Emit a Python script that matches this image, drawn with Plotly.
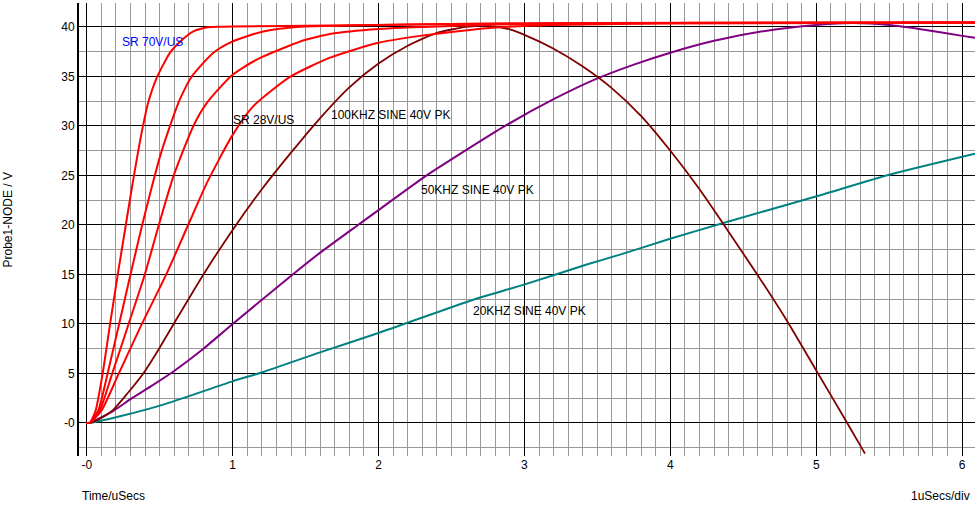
import plotly.graph_objects as go

# ---- data (time in uSecs, voltage in V) ----
sr70_t = [0.0, 0.02, 0.06, 0.107, 0.16, 0.215, 0.27, 0.31, 0.345, 0.38, 0.422, 0.484, 0.571,
          0.639, 0.731, 0.822, 0.9, 1.0, 1.668, 2.5, 3.5, 6.09]
sr70_v = [0.0, 0.0, 1.2, 4.8, 10.0, 15.2, 20.2, 23.8, 26.8, 29.6, 32.4, 35.0, 37.4,
          38.5, 39.55, 39.95, 40.02, 40.05, 40.15, 40.3, 40.4, 40.45]

sr_b_t = [0.0, 0.02, 0.08, 0.143, 0.222, 0.30, 0.38, 0.44, 0.502, 0.571, 0.639, 0.72, 0.868,
          0.994, 1.21, 1.439, 1.668, 2.5, 3.5, 6.09]
sr_b_v = [0.0, 0.0, 1.3, 5.0, 10.0, 15.0, 20.0, 23.5, 26.9, 30.0, 32.7, 35.0, 37.4,
          38.5, 39.55, 40.0, 40.1, 40.3, 40.4, 40.45]

sr_c_t = [0.0, 0.02, 0.09, 0.175, 0.287, 0.398, 0.5, 0.594, 0.731, 0.822, 0.994, 1.165, 1.371,
          1.5, 1.668, 2.0, 2.5, 3.0, 4.0, 6.09]
sr_c_v = [0.0, 0.0, 1.3, 5.0, 10.0, 15.0, 20.3, 24.9, 30.0, 32.3, 35.1, 36.7, 38.0,
          38.7, 39.3, 39.8, 40.1, 40.3, 40.4, 40.45]

sr28_t = [0.0, 0.02, 0.103, 0.22, 0.378, 0.545, 0.71, 0.822, 0.994, 1.142, 1.393, 1.668, 1.999,
          2.284, 2.627, 2.833, 3.2, 4.0, 6.09]
sr28_v = [0.0, 0.0, 1.3, 5.0, 10.0, 15.0, 20.5, 24.2, 28.95, 32.0, 34.95, 36.9, 38.4,
          39.1, 39.7, 39.96, 40.2, 40.35, 40.45]

sine100_t = [0.0, 0.02, 0.1, 0.18, 0.28, 0.39, 0.5, 0.6, 0.8, 1.0, 1.2, 1.4, 1.6, 1.8,
             2.0, 2.2, 2.4, 2.6, 2.75, 2.9, 3.0, 3.2, 3.4, 3.6, 3.8, 4.0, 4.2, 4.4,
             4.6, 4.8, 5.0, 5.2, 5.334]
sine100_v = [0.0, 0.0, 0.5, 1.3, 3.0, 5.05, 7.6, 10.1, 15.0, 19.5, 23.6, 27.3, 30.8, 33.9,
             36.3, 38.1, 39.4, 40.0, 40.1, 39.75, 39.2, 37.8, 36.0, 33.8, 31.0, 27.5, 23.6, 19.3,
             14.9, 10.3, 5.3, 0.3, -3.1]

sine50_t = [0.0, 0.02, 0.18, 0.3, 0.45, 0.594, 0.8, 1.0, 1.416, 1.6, 1.85, 2.0, 2.33, 2.605,
            2.867, 3.2, 3.5, 3.75, 4.0, 4.3, 4.65, 5.0, 5.25, 5.5, 5.75, 6.0, 6.088]
sine50_v = [0.0, 0.0, 1.2, 2.4, 3.8, 5.2, 7.5, 10.0, 15.05, 17.2, 19.9, 21.5, 25.0, 27.6,
            30.0, 32.7, 34.8, 36.2, 37.4, 38.6, 39.6, 40.2, 40.4, 40.2, 39.7, 39.1, 38.9]

sine20_t = [0.0, 0.02, 0.228, 0.525, 0.998, 1.21, 1.599, 1.999, 2.65, 2.997, 3.427, 3.655,
            3.998, 4.363, 5.003, 5.506, 6.088]
sine20_v = [0.0, 0.0, 0.67, 1.85, 4.2, 5.15, 7.13, 9.09, 12.45, 13.97, 16.0, 17.0,
            18.6, 20.2, 22.9, 25.1, 27.2]

x_tick_vals = [0, 1, 2, 3, 4, 5, 6]
x_tick_text = ["-0", "1", "2", "3", "4", "5", "6"]
y_tick_vals = [0, 5, 10, 15, 20, 25, 30, 35, 40]
y_tick_text = ["-0", "5", "10", "15", "20", "25", "30", "35", "40"]

FONT = "Liberation Sans, Arial, sans-serif"

fig = go.Figure()
series = [
    (sine20_t, sine20_v, "#008080", 2),
    (sine50_t, sine50_v, "#800080", 2),
    (sine100_t, sine100_v, "#800000", 1.8),
    (sr28_t, sr28_v, "#ff0000", 2),
    (sr_c_t, sr_c_v, "#ff0000", 2),
    (sr_b_t, sr_b_v, "#ff0000", 2),
    (sr70_t, sr70_v, "#ff0000", 2),
]
for t, v, c, w in series:
    fig.add_trace(go.Scatter(x=t, y=v, mode="lines", line=dict(color=c, width=w, shape="spline",
                                                                 smoothing=0.6),
                             showlegend=False, hoverinfo="skip"))

ann_font = dict(family=FONT, size=12, color="black")
labels = [
    ("SR 70V/US", 0.233, 38.46, "#0000ff"),
    ("SR 28V/US", 0.996, 30.6, "black"),
    ("100KHZ SINE 40V PK", 1.668, 31.1, "black"),
    ("50KHZ SINE 40V PK", 2.285, 23.57, "black"),
    ("20KHZ SINE 40V PK", 2.639, 11.27, "black"),
]
for txt, x, y, col in labels:
    fig.add_annotation(x=x, y=y, xref="x", yref="y", text=txt, showarrow=False,
                       xanchor="left", yanchor="middle", borderpad=0,
                       font=dict(family=FONT, size=12, color=col))

fig.add_annotation(x=-0.0792, y=0.52, xref="paper", yref="paper", text="Probe1-NODE / V",
                   showarrow=False, textangle=-90, xanchor="center", yanchor="middle",
                   font=ann_font)
fig.add_annotation(x=0.001, y=-0.0894, xref="paper", yref="paper", text="Time/uSecs",
                   showarrow=False, xanchor="left", yanchor="middle", font=ann_font)
fig.add_annotation(x=0.9967, y=-0.0894, xref="paper", yref="paper", text="1uSecs/div",
                   showarrow=False, xanchor="right", yanchor="middle", font=ann_font)

fig.update_layout(
    width=975, height=505,
    margin=dict(l=79, r=0, t=3, b=49, pad=0, autoexpand=False),
    paper_bgcolor="white", plot_bgcolor="white",
    font=dict(family=FONT, size=12, color="black"),
    xaxis=dict(range=[-0.053, 6.088], tickmode="array", tickvals=x_tick_vals,
               ticktext=x_tick_text, showgrid=True, gridcolor="black", gridwidth=1,
               zeroline=False, showline=False, ticks="", automargin=False,
               minor=dict(dtick=0.1, tick0=0, showgrid=True, gridcolor="#999999", gridwidth=1),
               tickfont=dict(family=FONT, size=12, color="black")),
    yaxis=dict(range=[-3.34, 42.42], tickmode="array", tickvals=y_tick_vals,
               ticktext=y_tick_text, showgrid=True, gridcolor="black", gridwidth=1,
               zeroline=False, showline=True, linecolor="black", linewidth=2, ticks="",
               automargin=False,
               minor=dict(dtick=2.5, tick0=0, showgrid=True, gridcolor="#999999", gridwidth=1),
               tickfont=dict(family=FONT, size=12, color="black")),
)

fig.write_html("out.html", config={"displayModeBar": False},
               post_script="document.body.style.margin='0px';document.body.style.padding='0px';")
